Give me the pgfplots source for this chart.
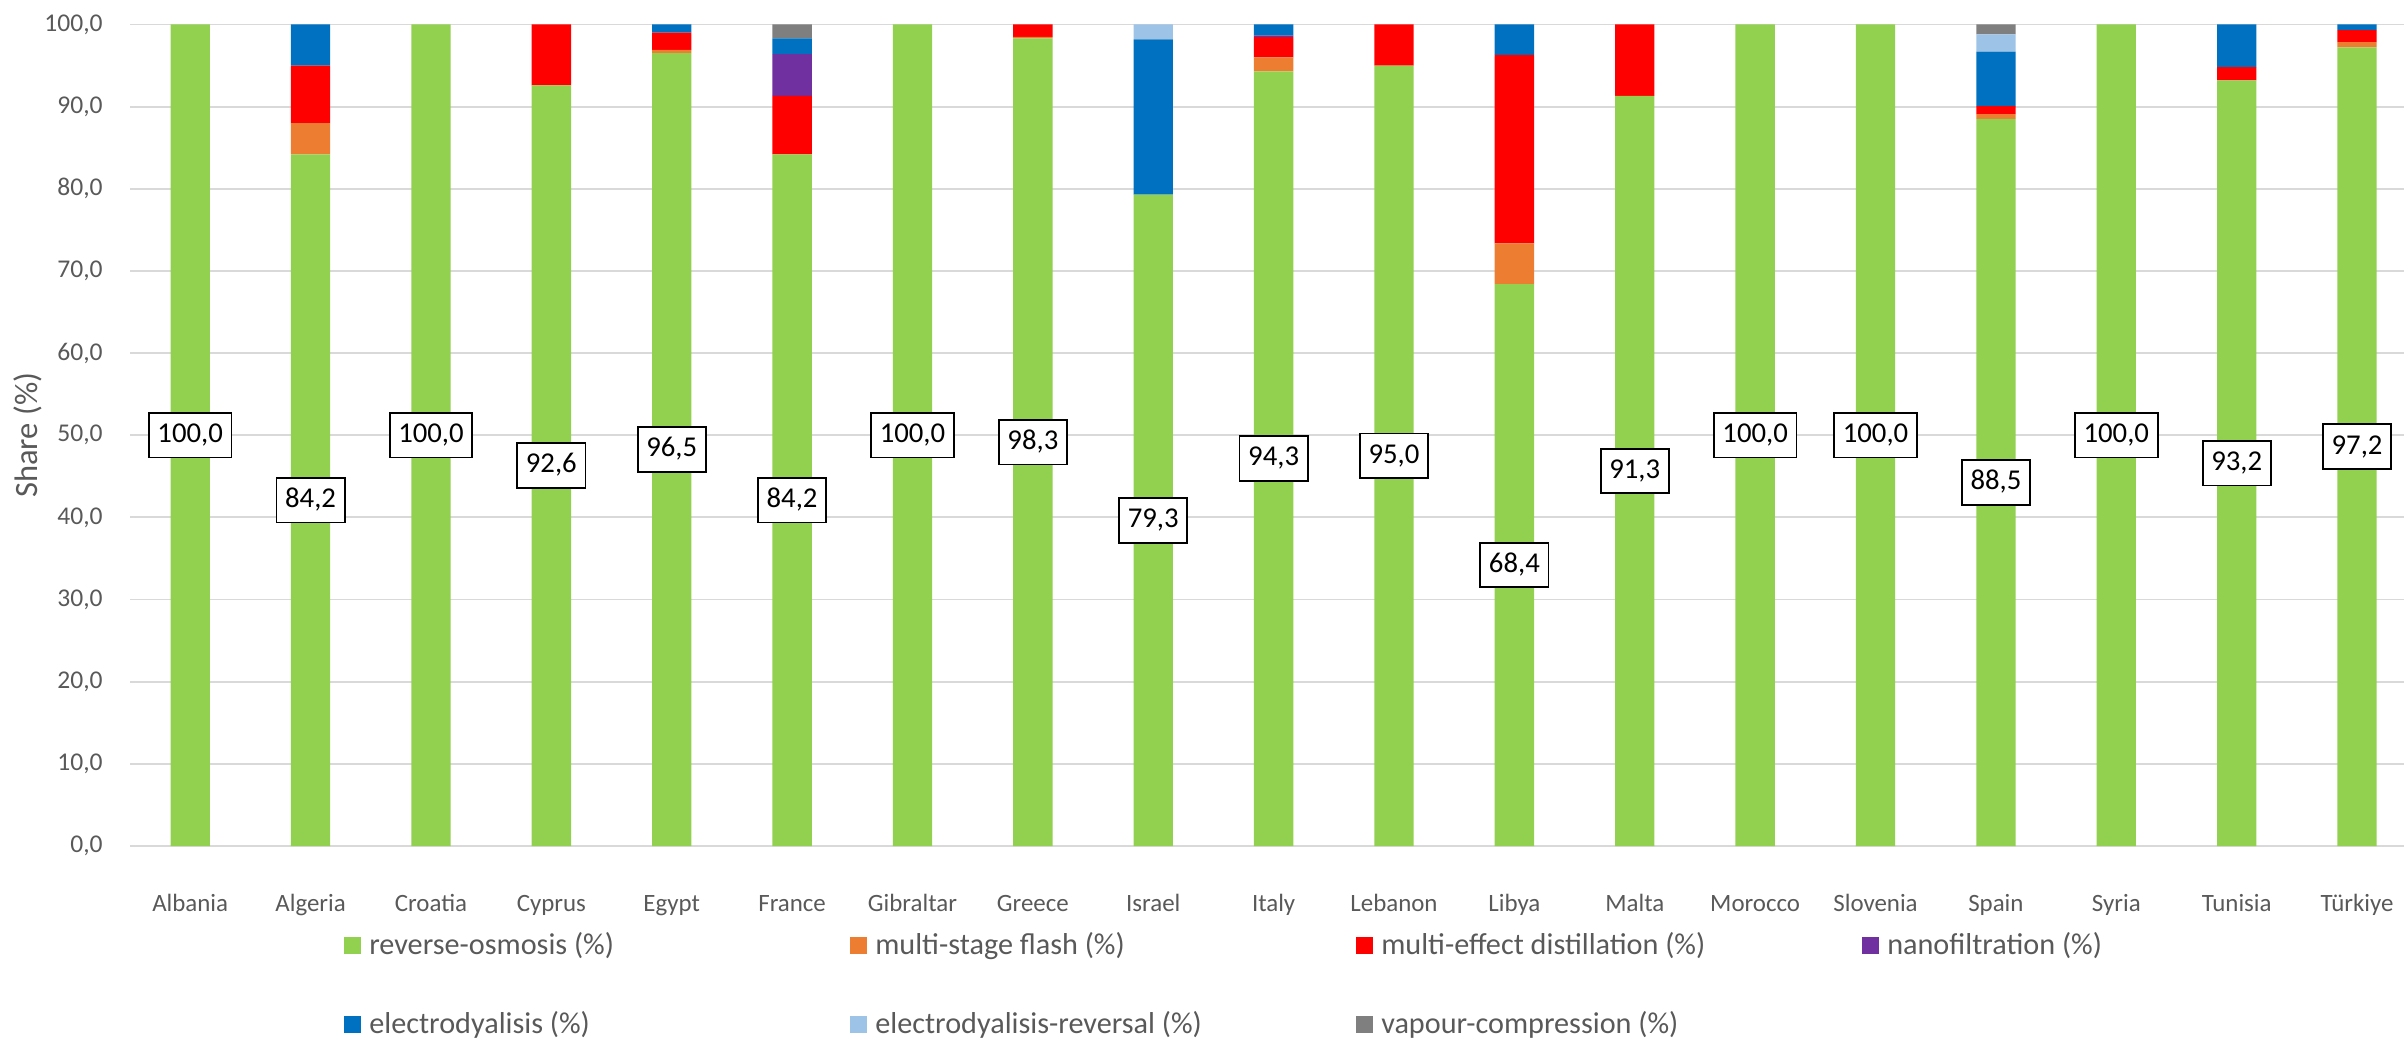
\documentclass[border=0pt]{standalone}
\usepackage{fontspec}
\setmainfont{Carlito}
\usepackage{pgfplots}
\pgfplotsset{compat=1.18}
\usepackage{pgfplotstable}
\definecolor{cRO}{HTML}{92D050}
\definecolor{cMSF}{HTML}{ED7D31}
\definecolor{cMED}{HTML}{FF0000}
\definecolor{cNF}{HTML}{7030A0}
\definecolor{cED}{HTML}{0070C0}
\definecolor{cEDR}{HTML}{9DC3E6}
\definecolor{cVC}{HTML}{7F7F7F}
\definecolor{gridgray}{HTML}{D9D9D9}
\definecolor{tickgray}{HTML}{595959}

\pgfplotstableread{
x  RO    MSF   MED    NF   ED    EDR  VC   lab    half
0  100   0     0      0    0     0    0    100,0  50
1  84.2  3.8   7.0    0    5.0   0    0    84,2   42.1
2  100   0     0      0    0     0    0    100,0  50
3  92.6  0     7.4    0    0     0    0    92,6   46.3
4  96.5  0.4   2.1    0    1.0   0    0    96,5   48.25
5  84.2  0     7.1    5.1  1.9   0    1.7  84,2   42.1
6  100   0     0      0    0     0    0    100,0  50
7  98.3  0.2   1.5    0    0     0    0    98,3   49.15
8  79.3  0     0      0    18.9  1.8  0    79,3   39.65
9  94.3  1.7   2.45   0.2  1.35  0    0    94,3   47.15
10 95.0  0     5.0    0    0     0    0    95,0   47.5
11 68.4  4.95  22.95  0    3.7   0    0    68,4   34.2
12 91.3  0     8.7    0    0     0    0    91,3   45.65
13 100   0     0      0    0     0    0    100,0  50
14 100   0     0      0    0     0    0    100,0  50
15 88.5  0.6   0.95   0    6.65  2.1  1.2  88,5   44.25
16 100   0     0      0    0     0    0    100,0  50
17 93.2  0     1.6    0    5.2   0    0    93,2   46.6
18 97.2  0.65  1.45   0    0.7   0    0    97,2   48.6
}\data

\pgfplotsset{
  myplot/.style={fill=#1, draw=none,
    legend image code/.code={\fill[fill=#1] (0bp,-2.5bp) rectangle (5.2bp,2.7bp);}},
}
\newcommand{\legtxt}[1]{\makebox[144.2bp][l]{#1}}

\begin{document}
\begin{tikzpicture}
\begin{axis}[
  at={(39bp,58.2bp)}, anchor=south west,
  scale only axis, width=682.2bp, height=246.45bp,
  ybar stacked, bar width=11.8bp,
  xmin=-0.5, xmax=18.39, ymin=0, ymax=100,
  xtick={0,...,18},
  xticklabels={Albania,Algeria,Croatia,Cyprus,Egypt,France,Gibraltar,Greece,Israel,Italy,Lebanon,Libya,Malta,Morocco,Slovenia,Spain,Syria,Tunisia,Türkiye},
  ytick={0,10,...,100},
  ymajorgrids, grid style={draw=gridgray, line width=0.55bp},
  axis line style={draw=none},
  major tick length=0pt,
  tick label style={text=tickgray},
  xticklabel style={font=\fontsize{7.5}{9}\selectfont, anchor=base, yshift=-19.5bp},
  yticklabel style={font=\fontsize{7.7}{9}\selectfont, xshift=-4.7bp, /pgf/number format/.cd, fixed, fixed zerofill, precision=1, use comma, assume math mode=true},
  ylabel={Share (\%)},
  every axis y label/.style={at={(axis description cs:0,0.5)}, xshift=-30.6bp, rotate=90, anchor=center, font=\fontsize{9.8}{11}\selectfont, text=tickgray},
  legend columns=4,
  legend style={at={(axis description cs:0.0938,-0.104)}, anchor=north west, draw=none, fill=none, inner sep=0pt,
    nodes={inner sep=0pt, font=\fontsize{9.1}{11}\selectfont, text=tickgray},
    /tikz/every odd column/.append style={column sep=2.4bp},
    row sep=15.6bp},
]
\addplot[myplot=cRO]  table[x=x, y=RO]  \data; \addlegendentry{\legtxt{reverse-osmosis (\%)}}
\addplot[myplot=cMSF] table[x=x, y=MSF] \data; \addlegendentry{\legtxt{multi-stage flash (\%)}}
\addplot[myplot=cMED] table[x=x, y=MED] \data; \addlegendentry{\legtxt{multi-effect distillation (\%)}}
\addplot[myplot=cNF]  table[x=x, y=NF]  \data; \addlegendentry{\legtxt{nanofiltration (\%)}}
\addplot[myplot=cED]  table[x=x, y=ED]  \data; \addlegendentry{\legtxt{electrodyalisis (\%)}}
\addplot[myplot=cEDR] table[x=x, y=EDR] \data; \addlegendentry{\legtxt{electrodyalisis-reversal (\%)}}
\addplot[myplot=cVC]  table[x=x, y=VC]  \data; \addlegendentry{\legtxt{vapour-compression (\%)}}
\end{axis}
\begin{axis}[
  at={(39bp,58.2bp)}, anchor=south west,
  scale only axis, width=682.2bp, height=246.45bp,
  xmin=-0.5, xmax=18.39, ymin=0, ymax=100,
  hide axis, clip=false,
]
\addplot[draw=none, mark=none, nodes near coords, point meta=explicit symbolic,
  every node near coord/.append style={anchor=center, draw=black, line width=0.55bp, fill=white, text=black,
    font=\fontsize{8.65}{10}\selectfont, inner xsep=2.6bp, inner ysep=3.1bp, text height=5.8bp, text depth=1.4bp}]
  table[x=x, y=half, meta=lab] \data;
\end{axis}
\pgfresetboundingbox
\path[use as bounding box] (0,0) rectangle (721.2bp,312bp);
\end{tikzpicture}
\end{document}
